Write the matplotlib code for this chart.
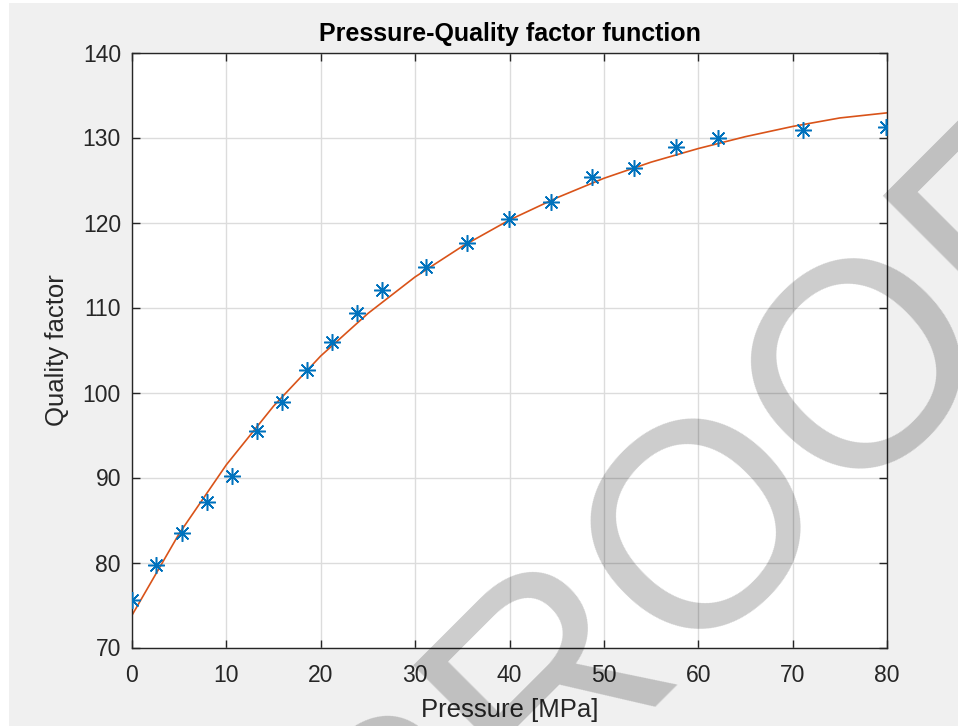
import matplotlib
matplotlib.use("Agg")
import matplotlib.pyplot as plt
from matplotlib.patches import Rectangle

# ====== DADOS ======
pressure = [0.0, 2.5, 5.3, 7.9, 10.6, 13.2, 15.9, 18.5, 21.2, 23.8, 26.5,
            31.1, 35.5, 39.9, 44.4, 48.7, 53.2, 57.6, 62.1, 71.1, 79.9]
quality = [75.6, 79.7, 83.5, 87.1, 90.2, 95.5, 98.9, 102.6, 105.9, 109.4, 112.1,
           114.8, 117.6, 120.4, 122.4, 125.4, 126.4, 128.9, 129.9, 130.9, 131.2]

# curva ajustada (valores lidos ao longo da linha laranja)
fit_x = [0, 5, 10, 15, 20, 25, 30, 35, 40, 45, 50, 55, 60, 65, 70, 75, 80]
fit_y = [73.8, 83.4, 91.5, 98.4, 104.3, 109.3, 113.6, 117.2, 120.3, 122.9,
         125.2, 127.1, 128.7, 130.1, 131.3, 132.3, 132.9]

x_ticks = [0, 10, 20, 30, 40, 50, 60, 70, 80]
y_ticks = [70, 80, 90, 100, 110, 120, 130, 140]

plt.rcParams["font.family"] = ["Liberation Sans", "DejaVu Sans"]
dark = "#262626"

fig = plt.figure(figsize=(9.58, 7.26), dpi=100, facecolor="white")
# fundo cinza estilo MATLAB (com borda branca à esquerda e no topo)
fig.patches.append(Rectangle((9 / 958, 0), 1, 1 - 3 / 726, transform=fig.transFigure,
                             facecolor="#f0f0f0", edgecolor="none", zorder=-10))

ax = fig.add_axes([132 / 958, 1 - 647.5 / 726, (887 - 132) / 958, (647.5 - 52.5) / 726])
ax.set_facecolor("white")

ax.plot(pressure, quality, linestyle="none", marker=(8, 2, 0), markersize=12,
        markeredgewidth=1.1, color="#0072BD", zorder=3)
ax.plot(fit_x, fit_y, color="#D95319", linewidth=1.2, zorder=2)

ax.set_xlim(0, 80)
ax.set_ylim(70, 140)
ax.set_xticks(x_ticks)
ax.set_yticks(y_ticks)
ax.grid(True, color="#dcdcdc", linewidth=1.0)
ax.set_axisbelow(True)
ax.tick_params(direction="in", length=6, width=1, top=True, right=True,
               labelsize=16.5, colors=dark)
ax.tick_params(axis="x", pad=12)
ax.tick_params(axis="y", pad=8)
for s in ax.spines.values():
    s.set_color(dark)
    s.set_linewidth(1.0)

ax.set_title("Pressure-Quality factor function", fontsize=18, fontweight="bold", pad=8)
ax.set_xlabel("Pressure [MPa]", fontsize=18.5, color=dark, labelpad=8)
ax.set_ylabel("Quality factor", fontsize=18.5, color=dark, labelpad=10)

# marca d'água
fig.text(686 / 958, 1 - 503 / 726, "PROOF", fontsize=210, color="black", alpha=0.2,
         rotation=45, rotation_mode="anchor", ha="center", va="center_baseline",
         zorder=20)

fig.savefig("out.png", dpi=100, facecolor=fig.get_facecolor())
